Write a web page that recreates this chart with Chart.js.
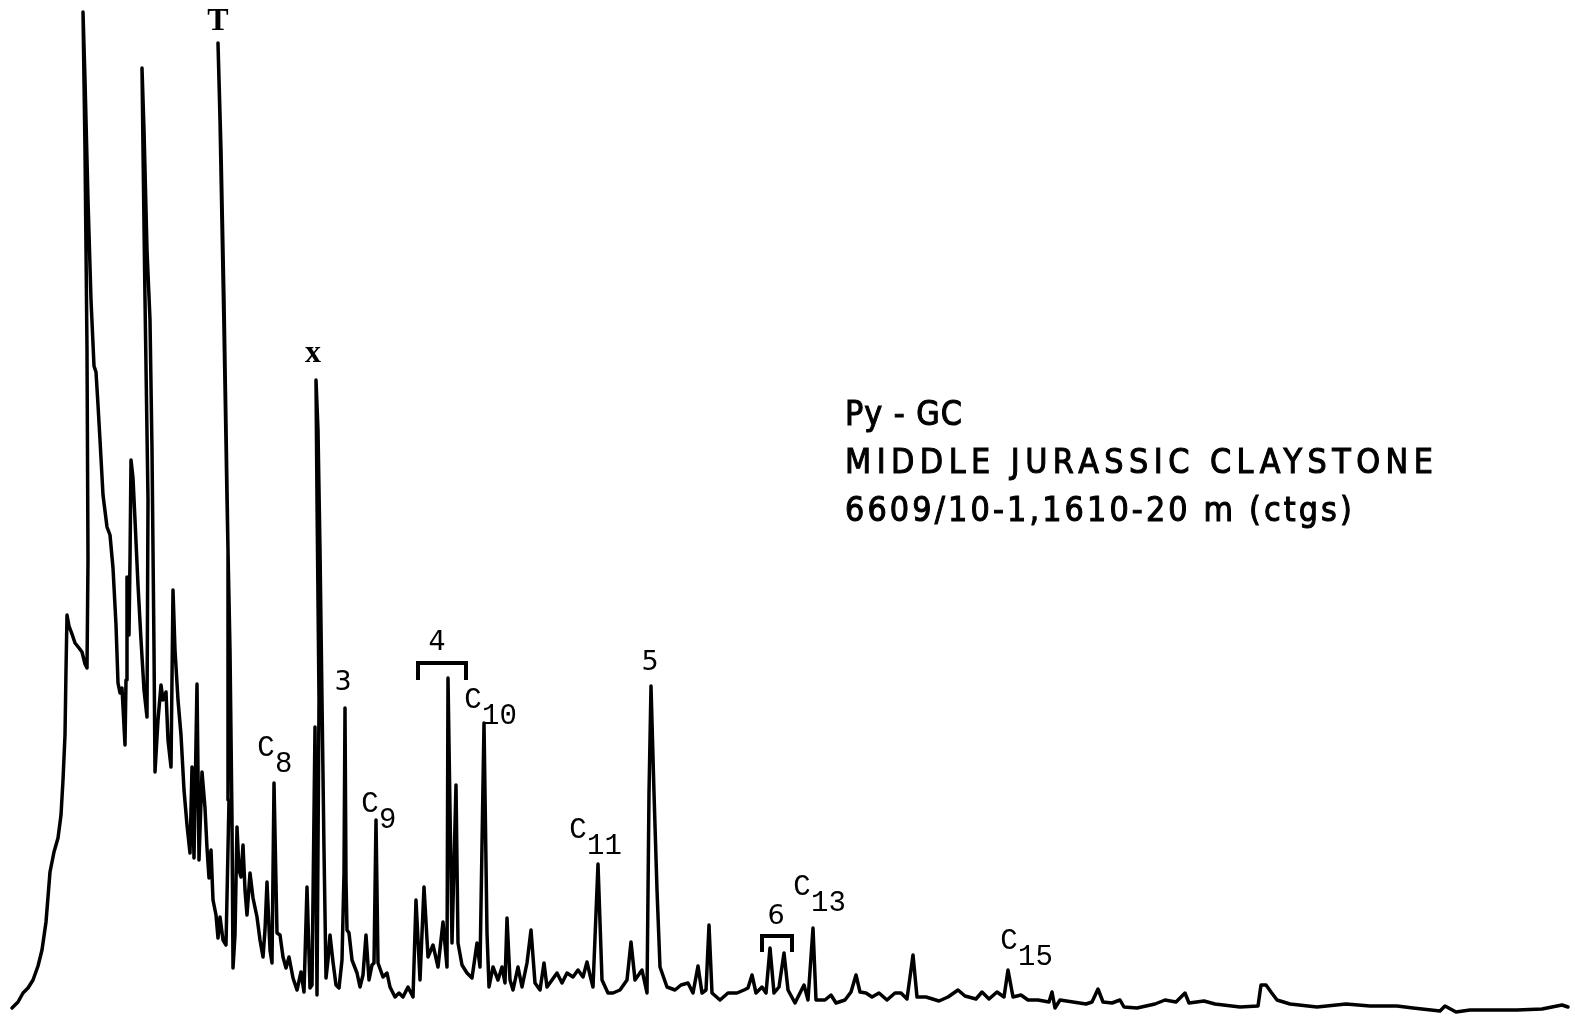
<!DOCTYPE html>
<html>
<head>
<meta charset="utf-8">
<script src="https://cdn.jsdelivr.net/npm/chart.js@4/dist/chart.umd.min.js"></script>
<style>
  html, body { margin: 0; padding: 0; background: #fff; overflow: hidden; }
  canvas { display: block; }
</style>
</head>
<body>
<canvas id="gc" width="1575" height="1017" style="width:1575px;height:1017px"></canvas>
<script>
// Pyrolysis-GC trace: [retention, detector response] pairs, split by elution range.
const solventFront = [
  [12,2],[18,8],[23,17],[28,22],[33,30],[38,44],[42,60],[46,88],[50,138],[54,158],[58,172],
  [61,195],[63,230],[65,275],[66,340],[67,395],[69,384],[72,376],[75,367],[79,362],[82,358],
  [85,346],[87,342],[88,450],[87,660],[85,860],[83,998],[85,930],[88,810],[91,710],[94,644],
  [96,638],[98,605],[100,570],[103,515],[107,483],[110,475],[113,442],[116,385],[118,327],
  [120,317],[122,322],[125,265],[126,330],[127,433],[128,413],[129,375],[130,450],[131,550],
  [133,532],[135,490],[138,425],[141,370],[144,320],[147,293],[148,510],[145,710],[143,860],
  [142,942],[144,880],[147,760],[150,690],[152,560],[153,460],[154,360],[155,238]
];
const lightEnd = [
  [158,290],[161,325],[163,310],[166,318],[168,270],[171,243],[173,420],[175,360],[178,310],
  [181,275],[184,220],[187,185],[190,157],[192,243],[194,152],[197,326],[199,150],[202,238],
  [205,202],[207,162],[209,132],[211,160],[213,110],[216,95],[218,72],[220,93],[223,70],[226,65],
  [229,210],[228,460],[224,710],[221,860],[218,967],[220,890],[224,680],[227,510],[230,360],
  [232,190],[233,42],[235,75],[237,183],[239,140],[241,133],[243,165],[245,120],[247,95],
  [250,137],[253,112],[257,93],[260,70],[263,53],[265,80],[267,128],[270,60],[272,47],[274,227],
  [277,77],[280,75],[283,53],[286,42],[289,53],[293,32],[297,20],[301,38],[304,18],[307,123],
  [310,22],[312,25],[315,283],[317,15],[319,310],[317,510],[316,630],[318,580],[320,460],
  [322,310],[324,160],[326,32]
];
const midRange = [
  [328,50],[330,75],[333,48],[336,25],[339,22],[342,50],[344,137],[345,302],[346,130],[347,80],
  [349,77],[352,50],[357,37],[360,23],[363,35],[366,75],[369,30],[372,45],[374,47],[376,190],
  [378,47],[383,33],[387,37],[390,23],[395,13],[399,17],[403,13],[408,23],[413,13],[416,110],
  [420,30],[424,123],[428,53],[433,65],[438,43],[443,88],[447,43],[448,332],[452,67],[456,225],
  [458,67],[462,45],[467,37],[472,32],[477,67],[480,43],[484,287],[487,77],[489,23],[493,43],
  [498,30],[502,43],[505,27],[507,92],[510,30],[513,20],[518,43],[522,23],[527,47],[531,80],
  [535,27],[540,20],[544,47],[547,23],[552,30],[557,37],[562,27],[567,37],[573,33],[578,40],
  [583,33],[587,48],[590,35],[593,23],[598,146],[602,30],[608,17],[613,17],[620,20],[627,30],
  [631,68],[635,30],[642,40],[647,17],[649,217],[651,324],[654,217],[657,120],[660,43],[667,23],
  [675,20],[681,25],[688,27],[693,17],[698,44]
];
const heavyTail = [
  [702,17],[706,20],[709,85],[712,17],[720,10],[728,17],[737,17],[744,20],[748,22],[752,35],
  [756,17],[762,23],[766,17],[770,62],[774,17],[779,23],[784,57],[788,20],[795,7],[800,17],
  [804,25],[808,10],[813,82],[816,10],[825,10],[831,15],[836,7],[845,10],[851,18],[856,35],
  [860,18],[866,17],[872,13],[879,17],[887,10],[895,17],[901,17],[907,11],[913,55],[917,13],
  [926,13],[939,9],[948,13],[958,20],[965,14],[976,11],[982,18],[989,11],[997,18],[1004,13],
  [1008,40],[1013,13],[1021,15],[1028,10],[1038,10],[1049,8],[1052,18],[1055,2],[1060,10],
  [1073,8],[1086,6],[1092,8],[1098,21],[1103,8],[1112,7],[1120,10],[1124,3],[1137,2],[1155,6],
  [1165,10],[1176,8],[1185,17],[1189,7],[1204,9],[1215,6],[1240,3],[1258,4],[1261,25],[1266,25],
  [1271,18],[1277,10],[1290,6],[1317,3],[1346,6],[1370,4],[1397,4],[1413,2],[1440,-1],[1445,4],
  [1456,-2],[1470,0],[1499,0],[1517,0],[1542,1],[1562,5],[1568,3]
];

// Peak identifications
const markerText  = ['T', 'x', '3', '4', '5', '6'];
const markerTime  = [218, 313, 343, 437, 650, 776];
const markerLevel = [988, 656, 327, 367, 347, 93];

// n-alkane / alkene doublets
const carbonNumber = ['8', '9', '10', '11', '13', '15'];
const carbonTime   = [266, 370, 473, 578, 802, 1009];
const carbonLevel  = [262, 206, 310, 180, 123, 69];

// Brackets grouping peaks 4 and 6
const bracketStart = [418, 762];
const bracketEnd   = [466, 792];
const bracketTop   = [347, 74];
const bracketFoot  = [330, 58];

const sampleLines = ['Py - GC', 'MIDDLE JURASSIC CLAYSTONE', '6609/10-1,1610-20 m (ctgs)'];

const trace = [...solventFront, ...lightEnd, ...midRange, ...heavyTail].map(([t, r]) => ({ x: t, y: r }));

const notes = {
  id: 'peakNotes',
  afterDatasetsDraw(chart) {
    const { ctx, scales: { x, y } } = chart;
    ctx.save();
    ctx.fillStyle = '#000';
    ctx.strokeStyle = '#000';
    ctx.textBaseline = 'middle';

    markerText.forEach((t, i) => {
      const letter = /[A-Za-z]/.test(t);
      ctx.font = letter ? 'bold 32px "Liberation Serif", serif' : '27px "DejaVu Sans", sans-serif';
      ctx.textAlign = 'center';
      ctx.fillText(t, x.getPixelForValue(markerTime[i]), y.getPixelForValue(markerLevel[i]));
    });

    ctx.font = '29px "Liberation Mono", monospace';
    carbonNumber.forEach((n, i) => {
      const cx = x.getPixelForValue(carbonTime[i]);
      const cy = y.getPixelForValue(carbonLevel[i]);
      ctx.textAlign = 'center';
      ctx.fillText('C', cx, cy);
      ctx.textAlign = 'left';
      ctx.fillText(n, cx + 9, cy + 16);
    });

    ctx.lineWidth = 4;
    ctx.lineJoin = 'miter';
    ctx.lineCap = 'butt';
    bracketStart.forEach((s, i) => {
      const x0 = x.getPixelForValue(s), x1 = x.getPixelForValue(bracketEnd[i]);
      const yt = y.getPixelForValue(bracketTop[i]), yf = y.getPixelForValue(bracketFoot[i]);
      ctx.beginPath();
      ctx.moveTo(x0, yf); ctx.lineTo(x0, yt); ctx.lineTo(x1, yt); ctx.lineTo(x1, yf);
      ctx.stroke();
    });

    // Sample description block, narrow lettering with wide tracking
    const left = chart.chartArea.left + 845;
    const baselines = [425, 473, 521];
    const widths = [117, 588, 507];
    const squeeze = 0.92;
    ctx.font = '33px "DejaVu Sans", sans-serif';
    ctx.textAlign = 'left';
    ctx.textBaseline = 'alphabetic';
    ctx.lineWidth = 1.1;
    sampleLines.forEach((line, i) => {
      ctx.letterSpacing = '0px';
      const w0 = ctx.measureText(line).width;
      const ls = (widths[i] / squeeze - w0) / (line.length - 1);
      ctx.letterSpacing = ls.toFixed(2) + 'px';
      ctx.save();
      ctx.translate(left, chart.chartArea.top + baselines[i]);
      ctx.scale(squeeze, 1);
      ctx.fillText(line, 0, 0);
      ctx.strokeText(line, 0, 0);
      ctx.restore();
    });
    ctx.restore();
  }
};

new Chart(document.getElementById('gc'), {
  type: 'scatter',
  data: {
    datasets: [{
      data: trace,
      showLine: true,
      borderColor: '#000',
      borderWidth: 3.5,
      borderJoinStyle: 'round',
      borderCapStyle: 'round',
      pointRadius: 0,
      tension: 0
    }]
  },
  options: {
    responsive: false,
    animation: false,
    devicePixelRatio: 1,
    events: [],
    layout: { padding: 0 },
    scales: {
      x: { type: 'linear', min: 0, max: 1575, display: false },
      y: { type: 'linear', min: -7, max: 1010, display: false }
    },
    plugins: { legend: { display: false }, tooltip: { enabled: false } }
  },
  plugins: [notes]
});
</script>
</body>
</html>
